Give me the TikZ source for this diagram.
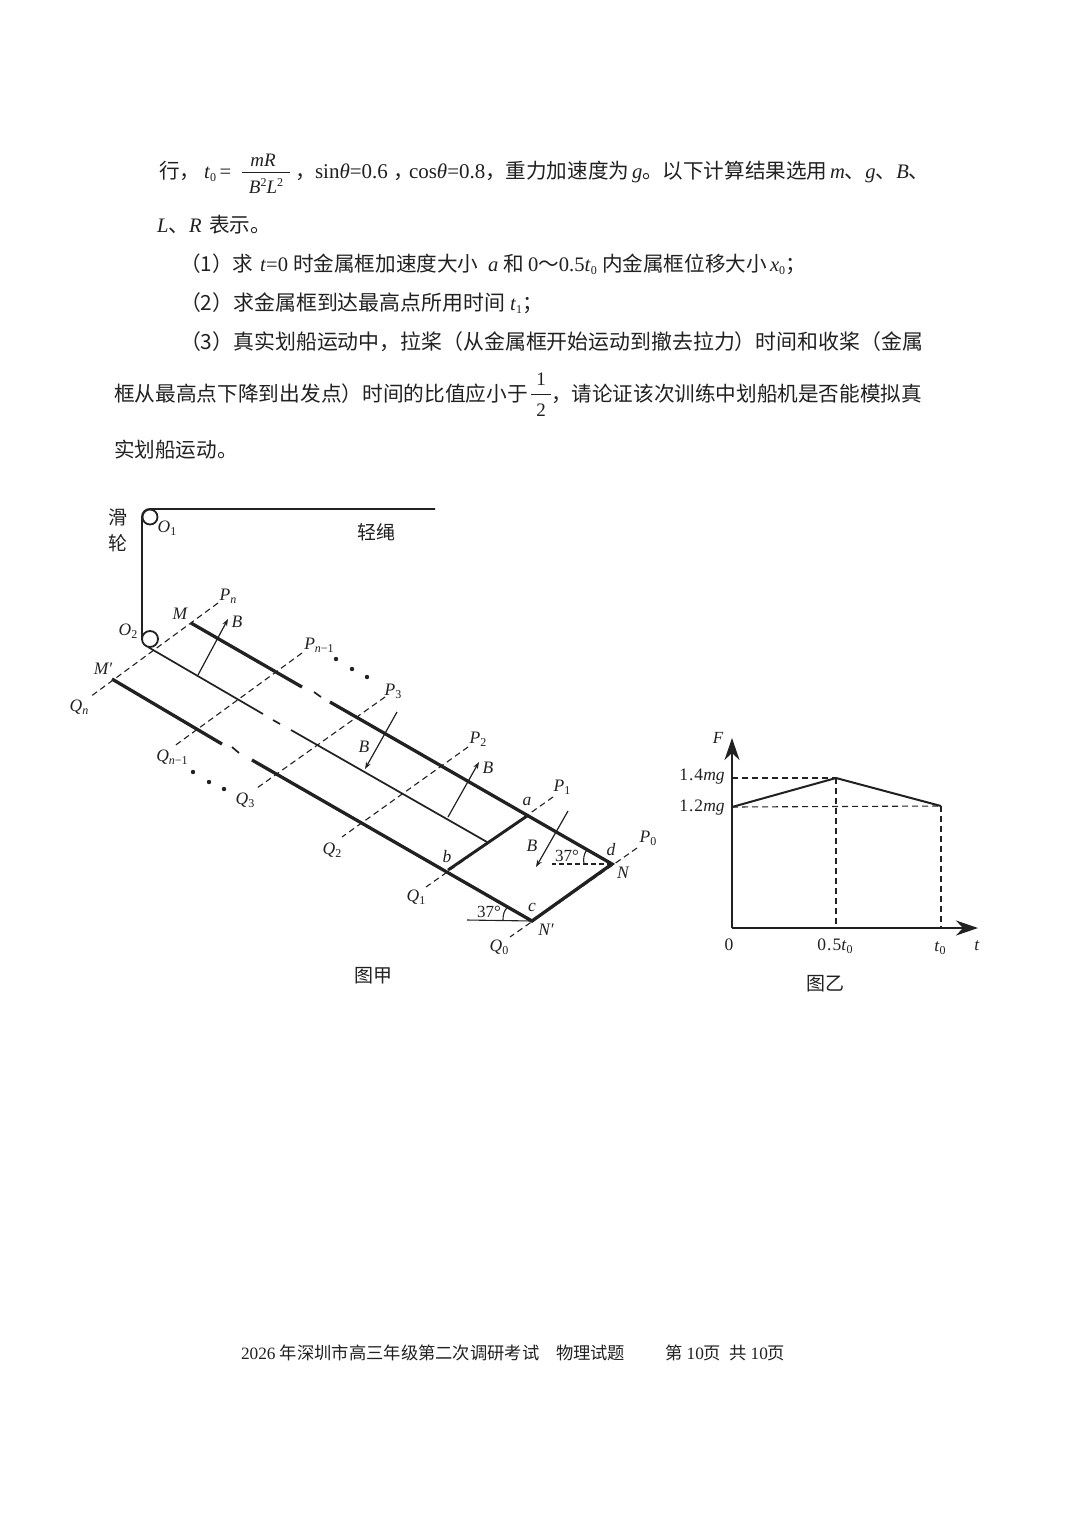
\documentclass[tikz,border=0pt]{standalone}
\usepackage{fontspec}
\usetikzlibrary{arrows.meta}
\setmainfont{Liberation Serif}
\newfontfamily\cjk{Noto Sans CJK SC}
\newcommand{\ci}[1]{\textit{#1}}
\newcommand{\sbs}[1]{\raisebox{-0.35ex}{\fontsize{12}{12}\selectfont #1}}
\definecolor{ink}{gray}{0.13}
\tikzset{
  x=1pt,y=-1pt,
  every node/.style={inner sep=0pt,outer sep=0pt,text=ink},
  para/.style={anchor=base west,font=\fontsize{20.6}{22}\selectfont},
  parawide/.style={anchor=base west,font=\fontsize{20.9}{22}\selectfont},
  mathpiece/.style={anchor=center,font=\fontsize{19}{21}\selectfont},
  foot/.style={anchor=base west,font=\fontsize{17.3}{19}\selectfont},
  lab/.style={anchor=center,font=\fontsize{17.5}{19}\selectfont\itshape},
  caption/.style={anchor=center,font=\fontsize{19}{21}\selectfont\cjk},
  chartlab/.style={anchor=center,font=\fontsize{17.5}{19}\selectfont},
  rope/.style={draw=ink,line width=1.9pt},
  rail/.style={draw=ink,line width=3.3pt},
  thinrail/.style={draw=ink,line width=1.7pt},
  field/.style={draw=ink,line width=1.2pt,-{Stealth[length=7pt,width=5pt]}},
  guide/.style={draw=ink,line width=1.1pt,dash pattern=on 6pt off 4pt},
  pulley/.style={draw=ink,line width=1.8pt,fill=white,circle,minimum size=15pt},
  dotmark/.style={fill=ink,circle,minimum size=4.4pt},
  axis/.style={draw=ink,line width=2pt,-{Stealth[length=22pt,width=15pt,inset=7pt]}},
  curve/.style={draw=ink,line width=2pt,line join=round},
}
\begin{document}
\begin{tikzpicture}
\useasboundingbox[fill=white] (0,0) rectangle (1080,1527);

% ---- paragraph ----
\node[para] (l1a) at (159,178) {\cjk 行，};
\node[para] (l1b) at (204,178) {\ci{t}\sbs{0}\,=};
\node[mathpiece] (fn) at (263,160) {\ci{mR}};
\node[mathpiece] (fd) at (266,186) {\ci{B}\raisebox{0.7ex}{\fontsize{12}{12}\selectfont 2}\ci{L}\raisebox{0.7ex}{\fontsize{12}{12}\selectfont 2}};
\coordinate (fbl) at (242,172); \coordinate (fbr) at (290,172);
\draw[draw=ink,line width=1pt] (fbl) -- (fbr);
\node[para] (l1c) at (295,178) {\cjk ，};
\node[para] (l1d) at (315,178) {\fontsize{21}{22}\selectfont sin\ci{θ}=0.6};
\node[para] (l1e) at (393,178) {\cjk ，};
\node[para] (l1f) at (409,178) {\fontsize{21}{22}\selectfont cos\ci{θ}=0.8};
\node[para] (l1g) at (485,178) {\cjk ，重力加速度为};
\node[para] (l1h) at (632,178) {\ci{g}};
\node[para] (l1i) at (642,178) {\cjk 。以下计算结果选用};
\node[para] (l1j) at (830,178) {\ci{m}{\cjk 、}\ci{g}{\cjk 、}\ci{B}{\cjk 、}};

\node[para] (l2a) at (157,232) {\ci{L}{\cjk 、}\ci{R}};
\node[para] (l2b) at (209,232) {\cjk 表示。};

\node[para] (l3a) at (180,271) {\cjk （1）求};
\node[para] (l3b) at (260,271) {\ci{t}=0};
\node[para] (l3c) at (293,271) {\cjk 时金属框加速度大小};
\node[para] (l3d) at (488,271) {\ci{a}};
\node[para] (l3e) at (503,271) {\cjk 和};
\node[para] (l3f) at (528,271) {0{\cjk ～}0.5\ci{t}\sbs{0}};
\node[para] (l3g) at (602,271) {\cjk 内金属框位移大小};
\node[para] (l3h) at (770,271) {\ci{x}\sbs{0}\cjk；};

\node[parawide] (l4a) at (180,310) {\cjk （2）求金属框到达最高点所用时间};
\node[para] (l4b) at (510,310) {\ci{t}\sbs{1}\cjk；};

\node[parawide] (l5) at (180,349) {\cjk （3）真实划船运动中，拉桨（从金属框开始运动到撤去拉力）时间和收桨（金属};

\node[para,font=\fontsize{20.7}{22}\selectfont] (l6a) at (114,401) {\cjk 框从最高点下降到出发点）时间的比值应小于};
\node[mathpiece] (h1) at (541,379) {1};
\node[mathpiece] (h2) at (541,410) {2};
\coordinate (hl) at (531,394); \coordinate (hr) at (551,394);
\draw[draw=ink,line width=1pt] (hl) -- (hr);
\node[para] (l6b) at (551,401) {\cjk ，请论证该次训练中划船机是否能模拟真};

\node[para] (l7) at (114,457) {\cjk 实划船运动。};

% ---- figure jia: coordinates ----
\coordinate (rE) at (435,509);
\coordinate (rT) at (150,509);
\coordinate (rL2) at (142,640);
\draw[rope] (rE) -- (rT) .. controls (145.5,509) and (142,512.5) .. (142,517) -- (rL2);

% dashed boundaries
\coordinate (Pn) at (218,603);   \coordinate (Qn) at (90,697);
\coordinate (Pm) at (302,653);   \coordinate (Qm) at (173,747);
\coordinate (Pc) at (385,697);   \coordinate (Qc) at (257,788);
\coordinate (Pb) at (468,747);   \coordinate (Qb) at (342,837);
\coordinate (Pa) at (553,797);   \coordinate (Qa) at (426,887);
\coordinate (Po) at (637,848);   \coordinate (Qo) at (510,937);
\foreach \p/\q in {Pn/Qn,Pm/Qm,Pc/Qc,Pb/Qb,Pa/Qa,Po/Qo} \draw[guide] (\p) -- (\q);

% rails
\coordinate (M) at (191,623);  \coordinate (T1) at (302,687);
\coordinate (T2) at (314,692); \coordinate (T3) at (321,697);
\coordinate (T4) at (330,702); \coordinate (N) at (612,864);
\coordinate (MM) at (112,679); \coordinate (B1) at (222,744);
\coordinate (B2) at (232,747); \coordinate (B3) at (239,753);
\coordinate (B4) at (252,760); \coordinate (NN) at (532,921);
\coordinate (m0) at (148,647); \coordinate (m1) at (263,714);
\coordinate (m2) at (273,720); \coordinate (m3) at (280,724);
\coordinate (m4) at (291,730); \coordinate (m5) at (487,842);
\coordinate (a) at (527,816);  \coordinate (b) at (448,870);

\draw[rail] (M) -- (T1) (T4) -- (N) -- (NN) -- (B4) (B1) -- (MM);
\draw[rail,line width=2.9pt] (a) -- (b);
\draw[thinrail] (T2) -- (T3) (B2) -- (B3) (m2) -- (m3);
\draw[thinrail] (m0) -- (m1) (m4) -- (m5);

% pulleys
\node[pulley] (O1) at (150,517) {};
\node[pulley,minimum size=16pt] (O2) at (150,639) {};

% field arrows
\coordinate (f1s) at (198,675); \coordinate (f1e) at (228,619);
\coordinate (f2s) at (397,712); \coordinate (f2e) at (365,769);
\coordinate (f3s) at (448,817); \coordinate (f3e) at (479,762);
\coordinate (f4s) at (568,811); \coordinate (f4e) at (536,867);
\foreach \s/\e in {f1s/f1e,f2s/f2e,f3s/f3e,f4s/f4e} \draw[field] (\s) -- (\e);

% angles
\coordinate (hd) at (552,864); \coordinate (he) at (467,920);
\draw[guide,dash pattern=on 5pt off 3pt] (N) -- (hd);
\draw[thinrail,line width=1.1pt] (NN) -- (he);
\draw[draw=ink,line width=1.1pt] (508,907) .. controls (504,910) and (503,915) .. (503,920);
\draw[draw=ink,line width=1.1pt] (587,850) .. controls (584,853) and (583,859) .. (584,864);

% dots
\foreach \n/\x/\y in {d1/336/659,d2/352/669,d3/367/677,d4/193/772,d5/209/782,d6/224/789}
  \node[dotmark] (\n) at (\x,\y) {};

% labels jia
\node[caption] (hua) at (118,517) {滑};
\node[caption] (lun) at (118,543) {轮};
\node[caption] (sheng) at (376,532) {轻绳};
\node[caption] (capj) at (373,976) {图甲};
\node[lab] (tO1) at (167,528) {O\sbs{\upshape 1}};
\node[lab] (tO2) at (128,631) {O\sbs{\upshape 2}};
\node[lab] (tM) at (180,614) {M};
\node[lab] (tPn) at (228,596) {P\sbs{n}};
\node[lab] (tB1) at (237,622) {B};
\node[lab] (tMM) at (103,669) {M′};
\node[lab] (tQn) at (79,707) {Q\sbs{n}};
\node[lab] (tPm) at (319,645) {P\sbs{n{\upshape −}\upshape 1}};
\node[lab] (tQm) at (172,757) {Q\sbs{n{\upshape −}\upshape 1}};
\node[lab] (tP3) at (393,691) {P\sbs{\upshape 3}};
\node[lab] (tQ3) at (245,800) {Q\sbs{\upshape 3}};
\node[lab] (tB2) at (364,747) {B};
\node[lab] (tP2) at (478,739) {P\sbs{\upshape 2}};
\node[lab] (tB3) at (488,768) {B};
\node[lab] (ta) at (527,801) {a};
\node[lab] (tP1) at (562,787) {P\sbs{\upshape 1}};
\node[lab] (tB4) at (532,846) {B};
\node[lab,font=\fontsize{17}{19}\selectfont] (t37a) at (567,856) {37°};
\node[lab] (td) at (611,850) {d};
\node[lab] (tP0) at (648,838) {P\sbs{\upshape 0}};
\node[lab] (tN) at (623,873) {N};
\node[lab] (tQ2) at (332,850) {Q\sbs{\upshape 2}};
\node[lab] (tb) at (447,857) {b};
\node[lab] (tQ1) at (416,897) {Q\sbs{\upshape 1}};
\node[lab,font=\fontsize{17}{19}\selectfont] (t37b) at (489,912) {37°};
\node[lab] (tc) at (532,907) {c};
\node[lab] (tNN) at (546,930) {N′};
\node[lab] (tQ0) at (499,947) {Q\sbs{\upshape 0}};

% ---- figure yi ----
\coordinate (org) at (732,928);
\coordinate (ytop) at (732,738);
\coordinate (xend) at (978,928);
\coordinate (c0) at (732,807);
\coordinate (c1) at (836,778);
\coordinate (c2) at (941,806);
\coordinate (ya) at (732,778);
\coordinate (xa) at (836,928);
\coordinate (xb) at (941,928);
\draw[guide] (ya) -- (c1);
\draw[guide] (c0) -- (c2);
\draw[guide] (c1) -- (xa);
\draw[guide] (c2) -- (xb);
\draw[axis] (org) -- (ytop);
\draw[axis] (org) -- (xend);
\draw[curve] (c0) -- (c1) -- (c2);
\node[chartlab,font=\fontsize{17}{19}\selectfont\itshape] (tF) at (718,738) {F};
\node[chartlab] (t14) at (702,777) {1\kern1pt.\kern1pt4\ci{mg}};
\node[chartlab] (t12) at (702,808) {1\kern1pt.\kern1pt2\ci{mg}};
\node[chartlab] (t0) at (729,945) {0};
\node[chartlab] (t05) at (835,946) {0\kern1pt.\kern1pt5\ci{t}\sbs{0}};
\node[chartlab] (tt0) at (940,948) {\ci{t}\sbs{0}};
\node[chartlab] (tt) at (977,946) {\ci{t}};
\node[caption] (capy) at (825,984) {图乙};

% ---- footer ----
\node[foot] (fa) at (241,1359) {2026 {\cjk 年深圳市高三年级第二次调研考试}};
\node[foot] (fb) at (556,1359) {\cjk 物理试题};
\node[foot] (fc) at (665,1359) {{\cjk 第} 10{\cjk 页}};
\node[foot] (fd2) at (729,1359) {{\cjk 共} 10{\cjk 页}};
\end{tikzpicture}
\end{document}
